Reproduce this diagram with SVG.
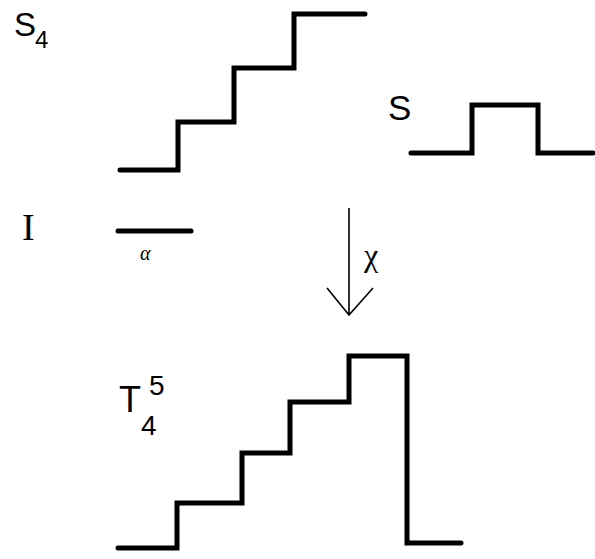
<svg xmlns="http://www.w3.org/2000/svg" width="595" height="559" viewBox="0 0 595 559">
<style>
.w{fill:none;stroke:#000;stroke-width:5;stroke-linecap:round;stroke-linejoin:miter}
.t{font-family:"Liberation Sans",Arial,sans-serif;fill:#000}
.s{font-family:"Liberation Serif","Times New Roman",serif;fill:#000}
.a{fill:none;stroke:#000;stroke-width:1.6}
</style>
<rect width="595" height="559" fill="#fff"/>
<g id="S4">
<path class="w" d="M120,170 H178 V122 H234 V68 H294 V14 H365"/>
<text class="t" x="14" y="36" font-size="33">S</text>
<text class="t" x="35" y="48" font-size="24">4</text>
</g>
<g id="S">
<path class="w" d="M411,153 H472 V105 H538 V153 H593"/>
<text class="t" x="388" y="120" font-size="35">S</text>
</g>
<g id="I">
<path class="w" d="M118,231 H191"/>
<text class="s" x="22" y="240" font-size="38">I</text>
<text class="s" x="140" y="260" font-size="20" font-style="italic">α</text>
</g>
<g id="T45">
<path class="w" d="M118,548 H177 V503 H242 V453 H290 V402 H349 V356 H407 V543 H461"/>
<text class="t" x="119" y="412" font-size="36">T</text>
<text class="t" x="149" y="395" font-size="28">5</text>
<text class="t" x="141" y="435" font-size="28">4</text>
</g>
<g id="connectors">
<path class="a" d="M349,208 V315 M327,288 L349,315 L373,288"/>
<text class="s" x="364" y="266" font-size="32">χ</text>
</g>
</svg>
